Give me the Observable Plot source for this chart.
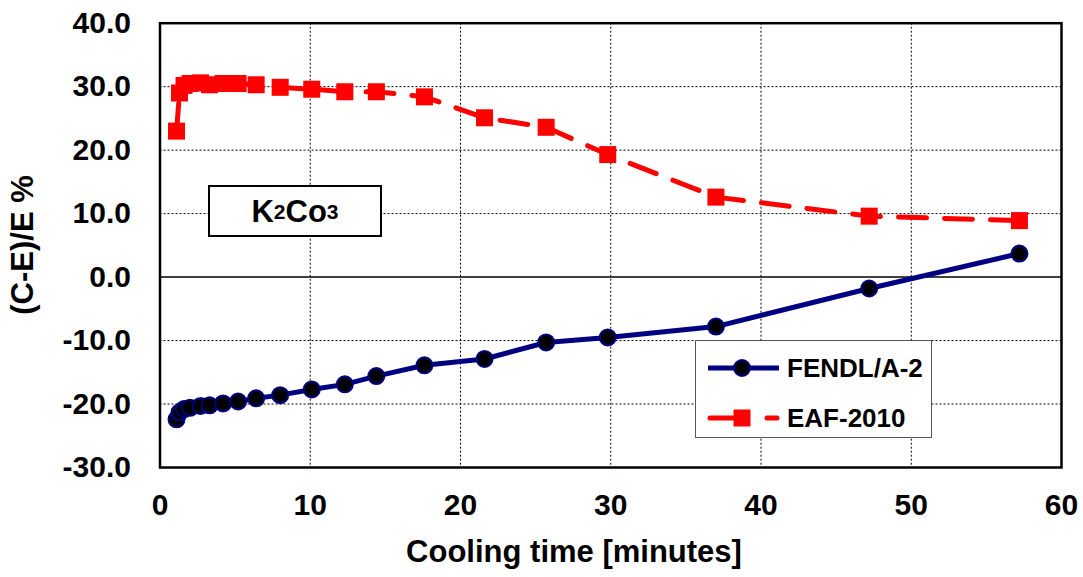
<!DOCTYPE html>
<html>
<head>
<meta charset="utf-8">
<script src="https://cdn.jsdelivr.net/npm/d3@7"></script>
<script src="https://cdn.jsdelivr.net/npm/@observablehq/plot@0.6"></script>
<style>
  body { margin: 0; background: white; }
  #wrap { position: relative; width: 1083px; height: 577px; font-family: "Liberation Sans", Arial, sans-serif; }
  .lbl { position: absolute; font-weight: bold; color: black; white-space: nowrap; }
</style>
</head>
<body>
<div id="wrap"></div>
<script>
// Cooling time [minutes]
const times = [1.1, 1.3, 1.6, 2.0, 2.7, 3.3, 4.2, 5.2, 6.4, 8.0, 10.1, 12.3, 14.4, 17.6, 21.6, 25.7, 29.8, 37.0, 47.2, 57.2];
// (C-E)/E % values
const fendl = [-22.4, -21.3, -20.8, -20.6, -20.3, -20.2, -19.9, -19.6, -19.1, -18.6, -17.7, -16.9, -15.6, -13.9, -12.9, -10.3, -9.5, -7.8, -1.8, 3.7];
const eaf = [23.0, 29.0, 30.2, 30.5, 30.6, 30.3, 30.5, 30.5, 30.3, 29.9, 29.6, 29.2, 29.2, 28.4, 25.1, 23.6, 19.3, 12.6, 9.6, 8.9];
const xTicks = [0, 10, 20, 30, 40, 50, 60];
const yTicks = [-30, -20, -10, 0, 10, 20, 30, 40];
const seriesNames = ["FENDL/A-2", "EAF-2010"];

const fendlData = times.map((t, i) => ({t, v: fendl[i]}));
const eafData = times.map((t, i) => ({t, v: eaf[i]}));

const chart = Plot.plot({
  width: 1083, height: 577,
  marginLeft: 159.5, marginRight: 22, marginTop: 22.7, marginBottom: 110,
  x: {domain: [0, 60]},
  y: {domain: [-30, 40]},
  style: {fontFamily: "'Liberation Sans', Arial, sans-serif", background: "white", color: "black"},
  marks: [
    Plot.gridX(xTicks.filter(d => d > 0 && d < 60), {stroke: "black", strokeOpacity: 1, strokeWidth: 1, strokeDasharray: "2,2"}),
    Plot.gridY(yTicks.filter(d => d !== 0 && d > -30 && d < 40), {stroke: "black", strokeOpacity: 1, strokeWidth: 1, strokeDasharray: "2,2"}),
    Plot.ruleY([0], {stroke: "black", strokeWidth: 1.5}),
    Plot.axisX(xTicks, {tickSize: 0, tickPadding: 26, fontSize: 30, fontWeight: "bold", label: null}),
    Plot.axisY(yTicks, {tickSize: 0, tickPadding: 29, fontSize: 30, fontWeight: "bold", label: null, tickFormat: d => d.toFixed(1)}),
    Plot.line(fendlData, {x: "t", y: "v", stroke: "#000080", strokeWidth: 5}),
    Plot.dot(fendlData, {x: "t", y: "v", r: 8, fill: "black", stroke: "#000080", strokeWidth: 2}),
    Plot.line(eafData, {x: "t", y: "v", stroke: "#ff0000", strokeWidth: 5, strokeDasharray: "28,18", strokeLinecap: "round"}),
    Plot.dot(eafData, {x: "t", y: "v", symbol: "square", r: 9.6, fill: "#ff0000", stroke: "none"}),
    Plot.frame({stroke: "black", strokeWidth: 2.5})
  ]
});

const wrap = document.getElementById("wrap");
chart.style.position = "absolute";
chart.style.left = "0px";
chart.style.top = "0px";
wrap.appendChild(chart);

function addDiv(html, css) {
  const d = document.createElement("div");
  d.className = "lbl";
  d.innerHTML = html;
  Object.assign(d.style, css);
  wrap.appendChild(d);
  return d;
}

// axis titles
addDiv("Cooling time [minutes]", {left: "574px", top: "552px", transform: "translate(-50%,-50%)", fontSize: "31px"});
addDiv("(C-E)/E %", {left: "23px", top: "245px", transform: "translate(-50%,-50%) rotate(-90deg)", fontSize: "31px"});

// K2Co3 label box
addDiv("K<sub style='font-size:21px;vertical-align:-8px'>2</sub>Co<sub style='font-size:21px;vertical-align:-8px'>3</sub>",
  {left: "208px", top: "185px", width: "170px", height: "48px", border: "2px solid black", background: "white",
   fontSize: "31px", display: "flex", alignItems: "center", justifyContent: "center", lineHeight: "1"});

// legend
const leg = document.createElement("div");
Object.assign(leg.style, {position: "absolute", left: "695px", top: "340px", width: "235px", height: "96px",
  border: "1.5px solid #555", background: "white"});
wrap.appendChild(leg);
const ns = "http://www.w3.org/2000/svg";
const lsvg = document.createElementNS(ns, "svg");
lsvg.setAttribute("width", "235"); lsvg.setAttribute("height", "96");
lsvg.style.position = "absolute"; lsvg.style.left = "0"; lsvg.style.top = "0";
lsvg.innerHTML = `
  <line x1="12" y1="27" x2="83" y2="27" stroke="#000080" stroke-width="5"/>
  <circle cx="46" cy="27" r="8" fill="black" stroke="#000080" stroke-width="2"/>
  <line x1="14" y1="77" x2="47" y2="77" stroke="#ff0000" stroke-width="5" stroke-linecap="round"/>
  <rect x="37.5" y="68.5" width="17" height="17" fill="#ff0000"/>
  <line x1="71" y1="77" x2="81" y2="77" stroke="#ff0000" stroke-width="5" stroke-linecap="round"/>
  <text x="91" y="27" dy="0.36em" font-size="26" font-weight="bold" font-family="'Liberation Sans', Arial, sans-serif">${seriesNames[0]}</text>
  <text x="91" y="77" dy="0.36em" font-size="26" font-weight="bold" font-family="'Liberation Sans', Arial, sans-serif">${seriesNames[1]}</text>
`;
leg.appendChild(lsvg);
</script>
</body>
</html>
